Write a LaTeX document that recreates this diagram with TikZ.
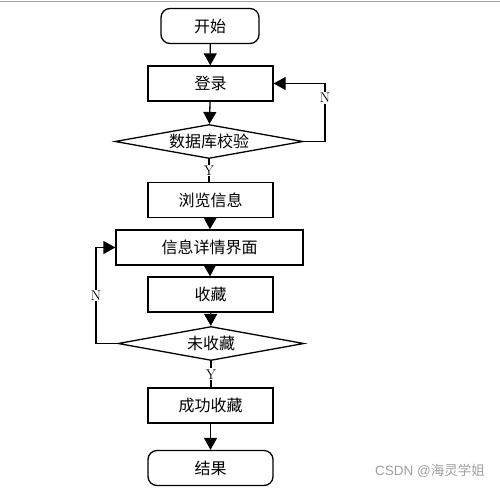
\documentclass[tikz,border=0pt]{standalone}
\usepackage{fontspec}
\newfontfamily\cjk{Noto Sans CJK SC}
\newfontfamily\wm{Liberation Sans}
\usetikzlibrary{shapes.geometric,arrows.meta}
\begin{document}
\begin{tikzpicture}[x=1pt,y=-1pt,
  every node/.style={font=\cjk\fontsize{16}{16}\selectfont},
  box/.style={draw,line width=1.3pt,minimum width=125pt,minimum height=35pt,inner sep=0pt},
  term/.style={box,rounded corners=9pt},
  dec/.style={draw,line width=1.3pt,diamond,aspect=5.7,inner sep=0pt,minimum height=34pt,minimum width=188pt},
  conn/.style={line width=1.3pt,-{Triangle[width=13pt,length=12pt]}},
  lbl/.style={fill=white,inner sep=1pt,font=\rmfamily\fontsize{14}{14}\selectfont}]
\useasboundingbox (0,0) rectangle (500,490);
\draw[gray!70,line width=1pt] (0,1.5) -- (500,1.5);
\node[term,minimum width=98pt] (start) at (210,26) {开始};
\node[box] (login) at (210.5,83.5) {登录};
\node[dec] (check) at (209,141.5) {数据库校验};
\node[box] (browse) at (210.5,200) {浏览信息};
\node[box,minimum width=187pt] (detail) at (209.5,247.5) {信息详情界面};
\node[box] (fav) at (210.5,294.5) {收藏};
\node[dec,minimum width=186pt] (notfav) at (211,343.5) {未收藏};
\node[box] (ok) at (210.5,405.5) {成功收藏};
\node[term] (end) at (210.5,468) {结果};
\coordinate (r1) at (325,141.5);
\coordinate (r2) at (325,83.5);
\coordinate (l1) at (96,343.5);
\coordinate (l2) at (96,247.5);
\draw[conn] (start) -- (login);
\draw[conn] (login) -- (check);
\draw[line width=1.3pt] (check.south) -- node[lbl]{Y} (check.south |- browse.north);
\draw[conn] (browse) -- (detail);
\draw[conn] (detail) -- (fav);
\draw[conn] (fav) -- (notfav);
\draw[line width=1.3pt] (notfav.south) -- node[lbl]{Y} (notfav.south |- ok.north);
\draw[conn] (ok) -- (end);
\draw[conn] (check.east) -- (r1) -- node[lbl,pos=0.75]{N} (r2) -- (login.east);
\draw[conn] (notfav.west) -- (l1) -- node[lbl,pos=0.5]{N} (l2) -- (detail.west);
\node[font=\wm\fontsize{13.5}{13.5}\selectfont,text=gray!75,inner sep=0pt,anchor=west] (wmk) at (375,471) {CSDN @{\cjk 海灵学姐}};
\end{tikzpicture}
\end{document}
